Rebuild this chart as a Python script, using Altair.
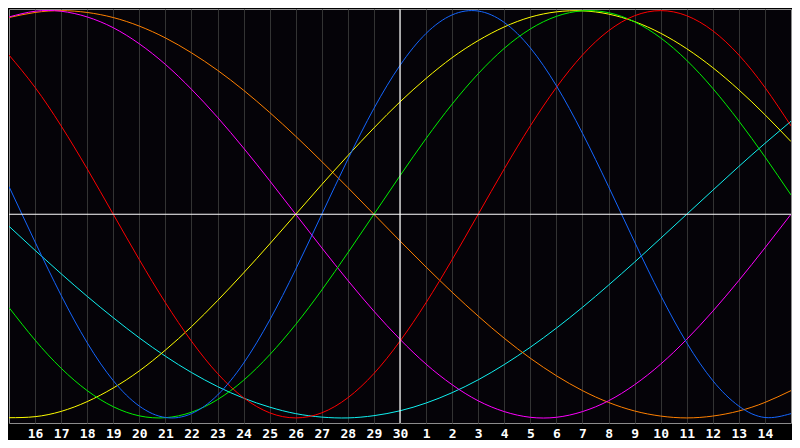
import altair as alt
import pandas as pd

# tick labels (calendar days) at grid positions 1..29
day_labels = ["16", "17", "18", "19", "20", "21", "22", "23", "24", "25", "26", "27", "28", "29", "30",
              "1", "2", "3", "4", "5", "6", "7", "8", "9", "10", "11", "12", "13", "14"]
day_index = list(range(31))

physical = [13.6, -13.6, -39.8, -63.1, -81.7, -94.2, -99.8, -97.9, -88.8, -73.1, -52.0, -27.0, 0.0,
            27.0, 52.0, 73.1, 88.8, 97.9, 99.8, 94.2, 81.7, 63.1, 39.8, 13.6, -13.6, -39.8, -63.1,
            -81.7, -94.2, -99.8, -97.9]
emotional = [78.2, 62.3, 43.4, 22.3, 0.0, -22.3, -43.4, -62.3, -78.2, -90.1, -97.5, -100.0, -97.5,
             -90.1, -78.2, -62.3, -43.4, -22.3, 0.0, 22.3, 43.4, 62.3, 78.2, 90.1, 97.5, 100.0, 97.5,
             90.1, 78.2, 62.3, 43.4]
intellectual = [-45.8, -61.8, -75.6, -86.6, -94.5, -99.0, -99.9, -97.2, -91.0, -81.5, -69.0, -54.1,
                -37.2, -18.9, 0.0, 18.9, 37.2, 54.1, 69.0, 81.5, 91.0, 97.2, 99.9, 99.0, 94.5, 86.6,
                75.6, 61.8, 45.8, 28.2, 9.5]
intuitive = [96.9, 99.7, 99.7, 96.9, 91.6, 83.7, 73.6, 61.4, 47.6, 32.5, 16.5, 0.0, -16.5, -32.5,
             -47.6, -61.4, -73.6, -83.7, -91.6, -96.9, -99.7, -99.7, -96.9, -91.6, -83.7, -73.6,
             -61.4, -47.6, -32.5, -16.5, 0.0]
aesthetic = [-99.9, -99.4, -96.8, -92.0, -85.3, -76.9, -66.7, -55.2, -42.4, -28.8, -14.6, 0.0, 14.6,
             28.8, 42.4, 55.2, 66.7, 76.9, 85.3, 92.0, 96.8, 99.4, 99.9, 98.3, 94.6, 88.9, 81.3, 72.0,
             61.1, 48.9, 35.7]
awareness = [96.6, 99.1, 100.0, 99.1, 96.6, 92.4, 86.6, 79.3, 70.7, 60.9, 50.0, 38.3, 25.9, 13.1, 0.0,
             -13.1, -25.9, -38.3, -50.0, -60.9, -70.7, -79.3, -86.6, -92.4, -96.6, -99.1, -100.0,
             -99.1, -96.6, -92.4, -86.6]
spiritual = [-5.9, -17.7, -29.2, -40.3, -50.8, -60.7, -69.7, -77.7, -84.6, -90.3, -94.7, -97.9, -99.6,
             -100.0, -98.9, -96.5, -92.7, -87.6, -81.3, -73.8, -65.3, -55.9, -45.7, -34.8, -23.5,
             -11.8, 0.0, 11.8, 23.5, 34.8, 45.7]

series_names = ["Spiritual", "Awareness", "Intuitive", "Aesthetic", "Intellectual", "Emotional", "Physical"]
series_values = [spiritual, awareness, intuitive, aesthetic, intellectual, emotional, physical]
series_colors = ["#10f0f0", "#ff8000", "#ff00ff", "#ffff00", "#00f000", "#ff0000", "#1466ff"]

zero_line = [0]
today_line = [15]

rows = []
for name, vals in zip(series_names, series_values):
    for d, v in zip(day_index, vals):
        rows.append({"day": d, "value": v, "cycle": name})
df = pd.DataFrame(rows)

label_expr = "[" + ",".join("'" + s + "'" for s in day_labels) + "][datum.value - 1]"

x_scale = alt.Scale(domain=[0, 30], nice=False, zero=False)
y_scale = alt.Scale(domain=[-102.5, 100.8], nice=False, zero=False)

x_axis = alt.Axis(values=list(range(1, 30)), labelExpr=label_expr, grid=True, gridColor="#333333",
                  gridWidth=1, ticks=False, domain=False, labelColor="#ffffff",
                  labelFont="DejaVu Sans Mono", labelFontWeight="bold", labelFontSize=13,
                  labelPadding=4, labelFlush=False, title=None)

lines = alt.Chart(df).mark_line(strokeWidth=1, interpolate="natural", clip=True).encode(
    x=alt.X("day:Q", scale=x_scale, axis=x_axis),
    y=alt.Y("value:Q", scale=y_scale, axis=None),
    color=alt.Color("cycle:N", scale=alt.Scale(domain=series_names, range=series_colors), legend=None),
)

hrule = alt.Chart(pd.DataFrame({"v": zero_line})).mark_rule(color="#ffffff", strokeWidth=1.2).encode(
    y=alt.Y("v:Q", scale=y_scale, axis=None)
)
vrule = alt.Chart(pd.DataFrame({"d": today_line})).mark_rule(color="#ffffff", strokeWidth=1.2).encode(
    x=alt.X("d:Q", scale=x_scale, axis=x_axis)
)

chart = alt.layer(lines, hrule, vrule).properties(
    width=784, height=432,
    autosize=alt.AutoSizeParams(type="fit", contains="padding"),
).configure(background="#000000", padding=0).configure_view(fill="#050308", stroke="#8c8c8c", strokeWidth=1)

chart.save("out.html", embed_options={"renderer": "svg", "actions": False})
